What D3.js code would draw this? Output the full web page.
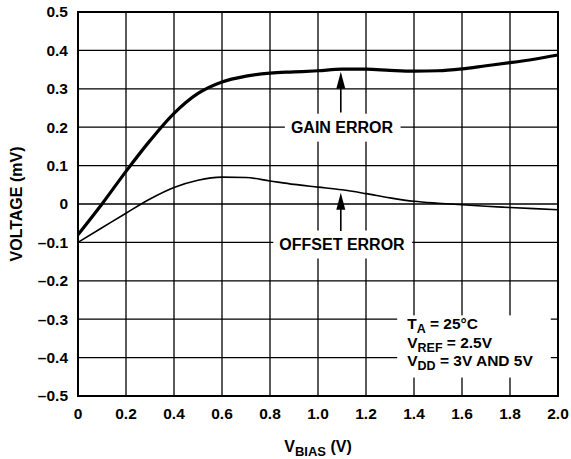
<!DOCTYPE html>
<html>
<head>
<meta charset="utf-8">
<script src="https://cdn.jsdelivr.net/npm/d3@7"></script>
<style>
  body { margin: 0; background: #fff; }
  text { font-family: "Liberation Sans", Arial, sans-serif; font-weight: bold; fill: #000; }
</style>
</head>
<body>
<div id="chart"></div>
<script>
// values
const vbias  = [0, 0.1, 0.2, 0.3, 0.4, 0.5, 0.6, 0.7, 0.8, 0.9, 1.0, 1.1, 1.2, 1.3, 1.4, 1.5, 1.6, 1.7, 1.8, 1.9, 2.0];
const gainErr = [-0.08, 0.0, 0.085, 0.165, 0.236, 0.288, 0.318, 0.333, 0.341, 0.344, 0.347, 0.351, 0.351, 0.348, 0.346, 0.347, 0.352, 0.36, 0.368, 0.377, 0.388];
const offsetErr = [-0.1, -0.062, -0.024, 0.013, 0.043, 0.062, 0.070, 0.069, 0.060, 0.051, 0.044, 0.037, 0.027, 0.016, 0.007, 0.002, -0.002, -0.006, -0.009, -0.012, -0.015];
const xTicks = [0, 0.2, 0.4, 0.6, 0.8, 1.0, 1.2, 1.4, 1.6, 1.8, 2.0];
const yTicks = [-0.5, -0.4, -0.3, -0.2, -0.1, 0, 0.1, 0.2, 0.3, 0.4, 0.5];

function draw() {
    const width = 571;
    const height = 459;
    const margin = { top: 12, right: 13, bottom: 63, left: 78 };
    const w = width - margin.left - margin.right;
    const h = height - margin.top - margin.bottom;

    const x = d3.scaleLinear().domain([0, 2]).range([0, w]);
    const y = d3.scaleLinear().domain([-0.5, 0.5]).range([h, 0]);

    const svg = d3.select("#chart").append("svg")
        .attr("width", width)
        .attr("height", height);

    const g = svg.append("g")
        .attr("transform", "translate(" + margin.left + "," + margin.top + ")");

    // grid
    g.selectAll(".vg").data(xTicks).enter().append("line")
        .attr("x1", d => x(d)).attr("x2", d => x(d))
        .attr("y1", 0).attr("y2", h)
        .attr("stroke", "#000").attr("stroke-width", 1.3);
    g.selectAll(".hg").data(yTicks).enter().append("line")
        .attr("x1", 0).attr("x2", w)
        .attr("y1", d => y(d)).attr("y2", d => y(d))
        .attr("stroke", "#000").attr("stroke-width", 1.3);

    // tick labels
    const fmt = d => d === 0 ? "0" : (d < 0 ? "\u2013" : "") + Math.abs(d).toFixed(1);
    g.selectAll(".yl").data(yTicks).enter().append("text")
        .attr("x", -10).attr("y", d => y(d)).attr("dy", "0.35em")
        .attr("text-anchor", "end").attr("font-size", 15.5)
        .text(fmt);
    g.selectAll(".xl").data(xTicks).enter().append("text")
        .attr("x", d => x(d)).attr("y", h + 23)
        .attr("text-anchor", "middle").attr("font-size", 15.5)
        .text(fmt);

    // curves
    const pts = ys => vbias.map((v, i) => [v, ys[i]]);
    const line = d3.line()
        .x(d => x(d[0]))
        .y(d => y(d[1]))
        .curve(d3.curveMonotoneX);

    g.append("path").datum(pts(offsetErr))
        .attr("fill", "none").attr("stroke", "#000").attr("stroke-width", 1.6)
        .attr("d", line);
    g.append("path").datum(pts(gainErr))
        .attr("fill", "none").attr("stroke", "#000").attr("stroke-width", 3.2)
        .attr("d", line);

    // labels with white backing to break the grid
    function label(txt, cx, base) {
        const t = g.append("text")
            .attr("x", cx).attr("y", base)
            .attr("text-anchor", "middle").attr("font-size", 16)
            .text(txt);
        const b = t.node().getBBox();
        g.insert("rect", "text")
            .attr("x", b.x - 6).attr("y", base - 19.5)
            .attr("width", b.width + 13).attr("height", 28)
            .attr("fill", "#fff");
    }
    label("GAIN ERROR", x(1.1), y(0.2) + 6);
    label("OFFSET ERROR", x(1.1), y(-0.1) + 7.6);

    // arrows
    function arrow(ax, yTip, yTail) {
        const tip = y(yTip);
        g.append("line")
            .attr("x1", x(ax)).attr("x2", x(ax))
            .attr("y1", tip + 12).attr("y2", y(yTail))
            .attr("stroke", "#000").attr("stroke-width", 1.6);
        g.append("path")
            .attr("d", "M" + x(ax) + "," + tip + " L" + (x(ax) - 4.5) + "," + (tip + 17) + " L" + (x(ax) + 4.5) + "," + (tip + 17) + " Z")
            .attr("fill", "#000");
    }
    arrow(1.095, 0.3445, 0.238);
    arrow(1.095, 0.0294, -0.0703);

    // conditions box
    const bx = x(1.33), by = y(-0.29);
    g.append("rect")
        .attr("x", bx).attr("y", by)
        .attr("width", x(1.97) - bx).attr("height", y(-0.452) - by)
        .attr("fill", "#fff");
    const lines = [["T", "A", " = 25°C"], ["V", "REF", " = 2.5V"], ["V", "DD", " = 3V AND 5V"]];
    lines.forEach((l, i) => {
        const t = g.append("text")
            .attr("x", bx + 10).attr("y", by + 14 + i * 18.5)
            .attr("font-size", 15.5);
        t.append("tspan").text(l[0]);
        t.append("tspan").attr("dy", 4).attr("font-size", 12.5).text(l[1]);
        t.append("tspan").attr("dy", -4).text(l[2]);
    });

    // frame
    g.append("rect")
        .attr("x", 0).attr("y", 0).attr("width", w).attr("height", h)
        .attr("fill", "none").attr("stroke", "#000").attr("stroke-width", 2);

    // axis titles
    const xt = svg.append("text")
        .attr("x", margin.left + w / 2).attr("y", 452)
        .attr("text-anchor", "middle").attr("font-size", 16);
    xt.append("tspan").text("V");
    xt.append("tspan").attr("dy", 3.5).attr("font-size", 13).text("BIAS");
    xt.append("tspan").attr("dy", -3.5).text(" (V)");

    svg.append("text")
        .attr("transform", "translate(22," + (margin.top + h / 2) + ") rotate(-90)")
        .attr("text-anchor", "middle").attr("font-size", 16)
        .text("VOLTAGE (mV)");
}
draw();
</script>
</body>
</html>
